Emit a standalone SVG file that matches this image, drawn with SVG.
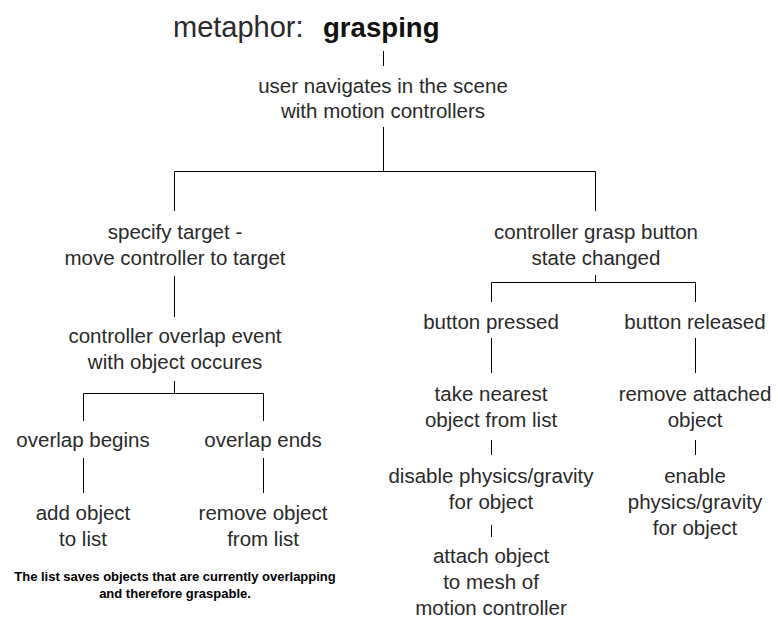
<svg xmlns="http://www.w3.org/2000/svg" width="778" height="627" viewBox="0 0 778 627">
<style>
.t{font-family:"Liberation Sans",Arial,sans-serif;font-size:20.5px;fill:#2a2a2a;text-anchor:middle}
.n{font-family:"Liberation Sans",Arial,sans-serif;font-size:13px;font-weight:bold;fill:#000;text-anchor:middle}
.c{fill:none;stroke:#000;stroke-width:1}
</style>
<rect width="778" height="627" fill="#fff"/>
<g id="connectors">
<path class="c" d="M383.5 51V66"/>
<path class="c" d="M383.5 127V171.5M174.5 171.5H595.5M174.5 171.5V211M595.5 171.5V211"/>
<path class="c" d="M174.5 276V317"/>
<path class="c" d="M174.5 381V393.5M83.5 393.5H263.5M83.5 393.5V421M263.5 393.5V421"/>
<path class="c" d="M83.5 458V493M263.5 458V493"/>
<path class="c" d="M595.5 275V282.5M491.5 282.5H695.5M491.5 282.5V302M695.5 282.5V302"/>
<path class="c" d="M491.5 338V373M695.5 338V373"/>
<path class="c" d="M491.5 440V455M491.5 525V537M695.5 440V455"/>
</g>
<g id="title"><text x="173" y="37" style="font-family:'Liberation Sans',Arial,sans-serif;font-size:29px;fill:#2a2a2a">metaphor:</text><text x="323" y="37" style="font-family:'Liberation Sans',Arial,sans-serif;font-size:27.6px;font-weight:bold;fill:#111">grasping</text></g>
<g id="user"><text class="t" x="383" y="93">user navigates in the scene</text><text class="t" x="383" y="118">with motion controllers</text></g>
<g id="specify"><text class="t" x="175" y="239">specify target -</text><text class="t" x="175" y="265">move controller to target</text></g>
<g id="grasp"><text class="t" x="596" y="239">controller grasp button</text><text class="t" x="596" y="265">state changed</text></g>
<g id="overlap-event"><text class="t" x="175" y="343">controller overlap event</text><text class="t" x="175" y="369">with object occures</text></g>
<g id="overlap-begins"><text class="t" x="83" y="447">overlap begins</text></g>
<g id="overlap-ends"><text class="t" x="263" y="447">overlap ends</text></g>
<g id="add-object"><text class="t" x="83" y="520">add object</text><text class="t" x="83" y="546">to list</text></g>
<g id="remove-object"><text class="t" x="263" y="520">remove object</text><text class="t" x="263" y="546">from list</text></g>
<g id="button-pressed"><text class="t" x="491" y="329">button pressed</text></g>
<g id="button-released"><text class="t" x="695" y="329">button released</text></g>
<g id="take-nearest"><text class="t" x="491" y="401">take nearest</text><text class="t" x="491" y="427">object from list</text></g>
<g id="disable-physics"><text class="t" x="491" y="483">disable physics/gravity</text><text class="t" x="491" y="509">for object</text></g>
<g id="attach-object"><text class="t" x="491" y="563">attach object</text><text class="t" x="491" y="589">to mesh of</text><text class="t" x="491" y="615">motion controller</text></g>
<g id="remove-attached"><text class="t" x="695" y="401">remove attached</text><text class="t" x="695" y="427">object</text></g>
<g id="enable-physics"><text class="t" x="695" y="483">enable</text><text class="t" x="695" y="509">physics/gravity</text><text class="t" x="695" y="535">for object</text></g>
<g id="note"><text class="n" x="175" y="581">The list saves objects that are currently overlapping</text><text class="n" x="175" y="598">and therefore graspable.</text></g>
</svg>
